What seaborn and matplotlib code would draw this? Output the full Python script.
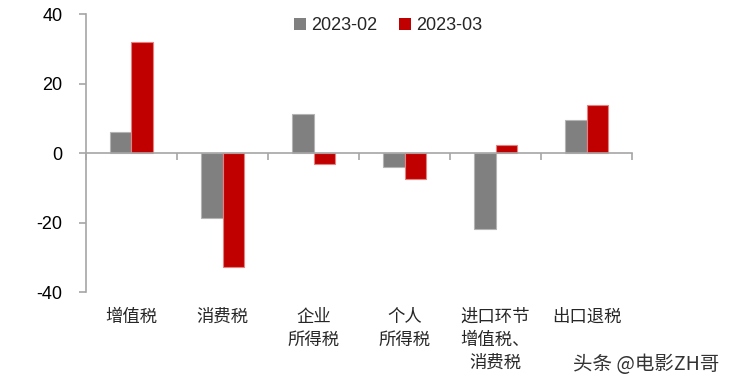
import numpy as np
import pandas as pd
import matplotlib
matplotlib.use("Agg")
import matplotlib.pyplot as plt
import seaborn as sns

categories = ["增值税", "消费税", "企业\n所得税", "个人\n所得税", "进口环节\n增值税、\n消费税", "出口退税"]
series_names = ["2023-02", "2023-03"]
values_feb = [6.1, -18.5, 11.2, -4.0, -21.8, 9.7]
values_mar = [32.0, -32.6, -3.1, -7.3, 2.5, 14.0]
y_ticks = [-40, -20, 0, 20, 40]

df = pd.DataFrame({
    "category": categories * 2,
    "period": [series_names[0]] * len(categories) + [series_names[1]] * len(categories),
    "value": values_feb + values_mar,
})

sns.set_theme(style="white")
plt.rcParams["font.family"] = ["Liberation Sans", "Noto Sans CJK SC", "DejaVu Sans"]
plt.rcParams["axes.unicode_minus"] = False

axis_grey = "#a6a6a6"
fill_colors = {"2023-02": "#808080", "2023-03": "#c00000"}
edge_colors = {"2023-02": "#b4b4b4", "2023-03": "#e88080"}

fig = plt.figure(figsize=(7.30, 3.86), dpi=100)
ax = fig.add_axes([0.1178, 0.2427, 0.748, 0.7203])

sns.barplot(data=df, x="category", y="value", hue="period", order=categories,
            hue_order=series_names, palette=fill_colors, width=0.48, ax=ax,
            saturation=1, errorbar=None)

for name, container in zip(series_names, ax.containers):
    for bar in container:
        bar.set_edgecolor(edge_colors[name])
        bar.set_linewidth(0.8)

ax.set_xlim(-0.5, len(categories) - 0.5)
ax.set_ylim(-40, 40)
ax.set_yticks(y_ticks)
ax.set_xlabel("")
ax.set_ylabel("")

for side in ("top", "right", "bottom"):
    ax.spines[side].set_visible(False)
ax.spines["left"].set_color(axis_grey)
ax.spines["left"].set_linewidth(1.2)

ax.tick_params(axis="y", direction="out", length=5, width=1.2, color=axis_grey,
               labelsize=13, pad=12, left=True, labelcolor="black")
ax.tick_params(axis="x", length=0, pad=11)
ax.set_xticks(range(len(categories)))
ax.set_xticklabels(categories, family=["Noto Sans CJK SC"], fontsize=12.5,
                   linespacing=1.35, va="top", multialignment="center")

# zero line with separators between categories
zero_ax = ax.twiny()
zero_ax.set_xlim(ax.get_xlim())
for side in ("top", "right", "left"):
    zero_ax.spines[side].set_visible(False)
zero_ax.spines["bottom"].set_visible(True)
zero_ax.spines["bottom"].set_position(("data", 0))
zero_ax.spines["bottom"].set_color(axis_grey)
zero_ax.spines["bottom"].set_linewidth(1.2)
zero_ax.xaxis.set_ticks_position("bottom")
zero_ax.set_xticks(np.arange(-0.5, len(categories), 1.0))
zero_ax.tick_params(axis="x", direction="out", length=5, width=1.2,
                    color=axis_grey, labelbottom=False, labeltop=False)

leg = ax.legend(loc="center", bbox_to_anchor=(0.553, 0.958), ncol=2, frameon=False,
                fontsize=13, handlelength=0.65, handleheight=0.65,
                handletextpad=0.3, columnspacing=1.2, borderaxespad=0)
for handle in leg.legend_handles:
    handle.set_linewidth(0)

fig.text(0.985, 0.055, "头条 @电影ZH哥", ha="right", va="center", fontsize=14,
         color="#333333", family=["Noto Sans CJK SC", "DejaVu Sans"])

fig.savefig("out.png", dpi=100)
